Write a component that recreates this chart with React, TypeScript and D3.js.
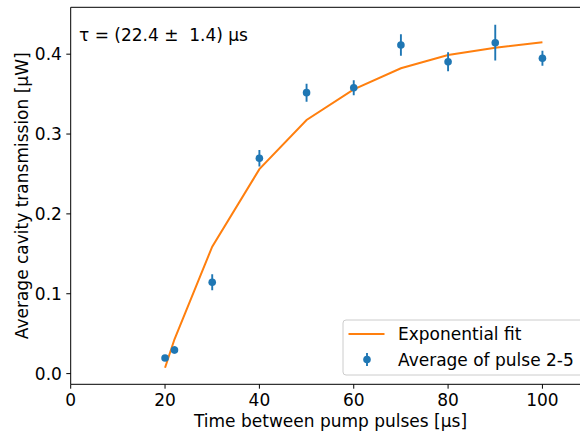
import React from "react";
import * as d3 from "d3";

const times = [20, 22, 30, 40, 50, 60, 70, 80, 90, 100];
const avgValues = [0.0195, 0.0296, 0.1143, 0.2696, 0.3518, 0.358, 0.4115, 0.3904, 0.4144, 0.3949];
const avgErrors = [0.003, 0.0045, 0.01, 0.0104, 0.0113, 0.0094, 0.0136, 0.0119, 0.0223, 0.0094];
const fitValues = [0.0074, 0.043, 0.159, 0.256, 0.3176, 0.356, 0.3823, 0.399, 0.408, 0.415];
const xTicks = [0, 20, 40, 60, 80, 100];
const yTicks = [0.0, 0.1, 0.2, 0.3, 0.4];
const legendLabels = ["Exponential fit", "Average of pulse 2-5"];
const annotation = "τ = (22.4 ±  1.4) μs";
const xLabel = "Time between pump pulses [μs]";
const yLabel = "Average cavity transmission [μW]";

const W = 580;
const H = 432;
const left = 70.7;
const right = 589.6;
const top = 7.3;
const bottom = 384.3;
const BLUE = "#1f77b4";
const ORANGE = "#ff7f0e";
const FONT = "DejaVu Sans";
const FS = 17;

export default function App() {
  const x = d3.scaleLinear().domain([0, 110]).range([left, right]);
  const y = d3.scaleLinear().domain([-0.0134, 0.4587]).range([bottom, top]);
  const line = d3
    .line<number>()
    .x((_, i) => x(times[i]))
    .y((d) => y(d));

  const legX = 343;
  const legY = 320;
  return (
    <svg
      width={W}
      height={H}
      style={{ position: "absolute", left: 0, top: 0, background: "#fff" }}
      fontFamily={FONT}
    >
      <defs>
        <clipPath id="ax">
          <rect x={left} y={top} width={right - left} height={bottom - top} />
        </clipPath>
      </defs>
      <rect x={0} y={0} width={W} height={H} fill="#fff" />
      <g clipPath="url(#ax)">
        <path d={line(fitValues) || ""} fill="none" stroke={ORANGE} strokeWidth={2} />
        {times.map((t, i) => (
          <g key={i}>
            <line
              x1={x(t)}
              x2={x(t)}
              y1={y(avgValues[i] - avgErrors[i])}
              y2={y(avgValues[i] + avgErrors[i])}
              stroke={BLUE}
              strokeWidth={1.9}
            />
            <circle cx={x(t)} cy={y(avgValues[i])} r={3.8} fill={BLUE} />
          </g>
        ))}
      </g>
      {/* spines */}
      <line x1={left} x2={left} y1={top} y2={bottom} stroke="#000" strokeWidth={1} />
      <line x1={left} x2={right} y1={bottom} y2={bottom} stroke="#000" strokeWidth={1} />
      <line x1={left} x2={right} y1={top} y2={top} stroke="#000" strokeWidth={1} />
      <line x1={right} x2={right} y1={top} y2={bottom} stroke="#000" strokeWidth={1} />
      {/* x ticks */}
      {xTicks.map((t) => (
        <g key={t}>
          <line x1={x(t)} x2={x(t)} y1={bottom} y2={bottom + 4.4} stroke="#000" strokeWidth={1} />
          <text x={x(t)} y={bottom + 21.5} textAnchor="middle" fontSize={FS} fill="#000">
            {t}
          </text>
        </g>
      ))}
      {/* y ticks */}
      {yTicks.map((t) => (
        <g key={t}>
          <line x1={left - 4.4} x2={left} y1={y(t)} y2={y(t)} stroke="#000" strokeWidth={1} />
          <text
            x={left - 8.8}
            y={y(t)}
            dy="0.36em"
            textAnchor="end"
            fontSize={FS}
            fill="#000"
          >
            {t.toFixed(1)}
          </text>
        </g>
      ))}
      <text x={330.5} y={426.7} textAnchor="middle" fontSize={FS} fill="#000">
        {xLabel}
      </text>
      <text
        transform={`translate(28,${(top + bottom) / 2}) rotate(-90)`}
        textAnchor="middle"
        fontSize={FS}
        fill="#000"
      >
        {yLabel}
      </text>
      <text x={79} y={40.5} fontSize={FS} fill="#000" style={{ whiteSpace: "pre" }}>
        {annotation}
      </text>
      {/* legend */}
      <rect
        x={legX}
        y={legY}
        width={240}
        height={55}
        rx={3}
        fill="#fff"
        fillOpacity={0.8}
        stroke="#cccccc"
        strokeWidth={1}
      />
      <line x1={348.5} x2={384.5} y1={334} y2={334} stroke={ORANGE} strokeWidth={2} />
      <text x={398} y={334} dy="0.36em" fontSize={FS} fill="#000">
        {legendLabels[0]}
      </text>
      <line x1={367} x2={367} y1={353} y2={366} stroke={BLUE} strokeWidth={1.9} />
      <circle cx={367} cy={359.5} r={3.8} fill={BLUE} />
      <text x={398} y={359.5} dy="0.36em" fontSize={FS} fill="#000">
        {legendLabels[1]}
      </text>
    </svg>
  );
}
